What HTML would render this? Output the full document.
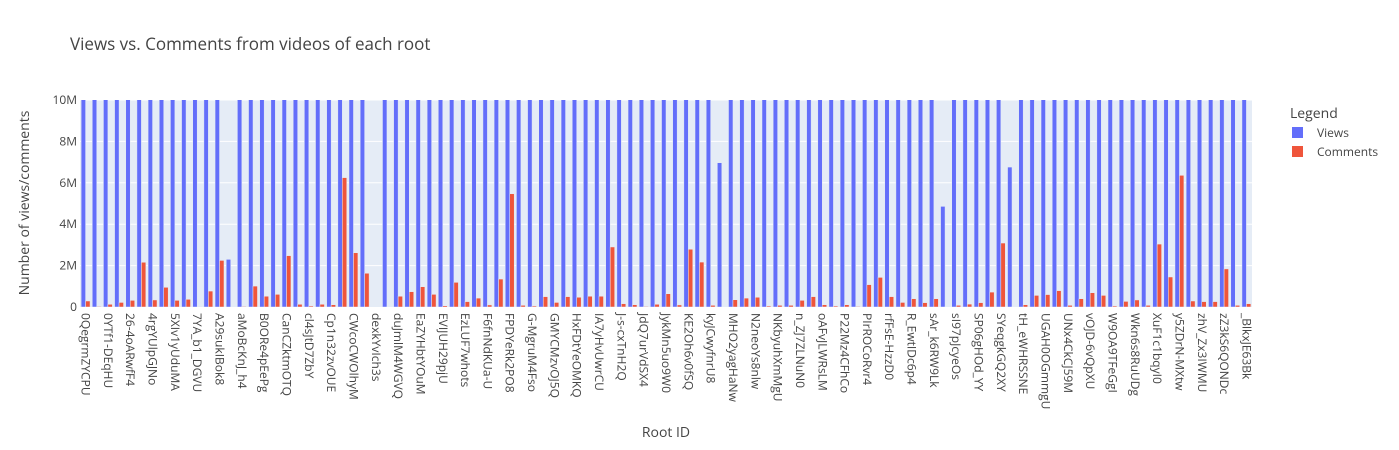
<!DOCTYPE html>
<html><head><meta charset="utf-8"><style>
html,body{margin:0;padding:0;background:#fff;}
svg{display:block;font-family:"Open Sans","Liberation Sans",sans-serif;}
</style></head><body>
<svg id="chart" width="1399" height="450" xmlns="http://www.w3.org/2000/svg">
<rect width="1399" height="450" fill="#fff"/>
<text x="70" y="50" font-size="17" fill="#444">Views vs. Comments from videos of each root</text>
<rect x="80" y="100" width="1172" height="207" fill="#e5ecf6"/>
<g id="grid"></g>
<defs><clipPath id="clip"><rect x="80" y="100" width="1172" height="207"/></clipPath></defs>
<g id="bars" clip-path="url(#clip)"></g>
<g id="yticks"></g>
<g id="xticks"></g>
<text transform="translate(29,203) rotate(-90)" text-anchor="middle" font-size="14" fill="#444">Number of views/comments</text>
<text x="666" y="437" text-anchor="middle" font-size="14" fill="#444">Root ID</text>
<g>
<text x="1290" y="118" font-size="14" fill="#444">Legend</text>
<g><rect x="1292" y="127" width="11" height="11" fill="#636efa"/><text x="1317" y="137" font-size="12" fill="#444">Views</text></g>
<g><rect x="1292" y="146" width="11" height="11" fill="#ef553b"/><text x="1317" y="156" font-size="12" fill="#444">Comments</text></g>
</g>
</svg>
<script>
const categories = ["0QegrmZYCPU","0Rk1xTq9aLs","0YTf1-DEqHU","1bKx7PzQwEo","26-4oARwfF4","3mVnQ8tLpYc","4rgYUlpGJNo","4zWq2kXbN7s","5XIv1yUduMA","6HpLr0tYdQk","7YA_b1_DGVU","9cTfWm3sJvE","A29sukIBok8","a8QzLmN2pXw","aMoBcKnJ_h4","aZ4yRt7LqPo","B0ORe4pEePg","bX9kT3mWq1A","CanCZktmOTQ","cGh7Rz2LpVs","cl4sJtD7ZbY","cN8qWx4TpLe","Cp1n32zvOUE","CsQ5mLr8YtB","CWcoCWOlhyM","d2HjK7wXqNf","dexkYvIch3s","dL6pQz9VtRm","duJmlM4WGVQ","e1XkB8rTwZq","EaZYHbtYOuM","EgT4nP0sLvW","EVIJUH29pjU","Ew7qZr3KbNc","EzLUF7whots","f3MpLq8XzRt","F6fnNdKUa-U","FkW2vN9jQsT","FPDYeRk2PO8","fY5tLm1QzXa","G-MgruM4Fso","gB7xR2kWpLn","GMYCMzvOJ5Q","h4NqT8zLmVs","HxFDtYeOMKQ","i0PzK3wRtLb","IA7yHvUwrCU","iX8mQ2nVrTs","J-s-cxTnH2Q","j6WkL9pZqRe","JdQ7urVdSX4","jM3tX8qLzPw","JykMn5uo9W0","k1RzP7wQmLx","KE2Oh6v0fSQ","kT9nV4sLpQa","kyJCwyfnrU8","L5qXz2WmRtP","MHO2yagHaNw","mP8kR3tLqZs","N2neoYs8nlw","nB4wQ7zLxTp","NKbyuhXmMgU","nR2tP9kWqLz","n_ZJ7ZLNuN0","o3LqZ8mWxRt","oAFvJLWRsLM","p7TkQ2rLzWn","P22Mz4CFhCo","pL9xW3qRtZm","PIrROCoRvr4","q4WzL8nTxPr","rfFsE-HzzD0","rK2pT7qLmZx","R_EwtIDc6p4","s1MzW9tQrLp","sAr_k6RW9Lk","sE6qL3xTzWn","sI97pJcyeOs","sV8pR2mLqTz","SP06gHOd_YY","sX3tQ7wLzRp","SYeqgkGQ2XY","t9LmW2qRxZp","tH_eWHRSSNE","tZ5qP8rLwXm","UGAH0OGmmgU","uK7wT3zLqRn","UNx4CkCJ59M","v2RqL8mTxWz","vOJD-6vQpXU","vW4zP9tLqRm","W9OA9TFeGgI","w3LqT7xRzPn","Wkn6s8RuUDg","x6PmW2qLtRz","XuF1c1bqyI0","xQ8tR3zLwPm","y5ZDrN-MXtw","yL2wP7qTxRz","zhV_Zx3IWMU","zR9tQ4mLxWp","zZ3kS6QONDc","_A4pW8rTqLz","_BlkxJE63Bk"];
const views = [20,20,20,20,20,20,20,20,20,20,20,20,20,2.3,20,20,20,20,20,20,20,20,20,20,20,20,0,20,20,20,20,20,20,20,20,20,20,20,20,20,20,20,20,20,20,20,20,20,20,20,20,20,20,20,20,20,20,6.97,20,20,20,20,20,20,20,20,20,20,20,20,20,20,20,20,20,20,20,4.86,20,20,20,20,20,6.76,20,20,20,20,20,20,20,20,20,20,20,20,20,20,20,20,20,20,20,20,20];
const comments = [0.29,0.03,0.13,0.22,0.32,2.16,0.34,0.95,0.32,0.37,0.01,0.77,2.25,0,0.03,1.01,0.52,0.61,2.48,0.13,0.05,0.13,0.11,6.25,2.62,1.63,0,0.02,0.52,0.74,0.98,0.61,0.06,1.19,0.26,0.43,0.10,1.35,5.47,0.08,0.05,0.50,0.22,0.50,0.47,0.52,0.52,2.90,0.16,0.11,0.03,0.13,0.64,0.10,2.79,2.17,0.08,0.02,0.35,0.43,0.47,0.05,0.08,0.08,0.32,0.50,0.11,0.05,0.11,0.03,1.08,1.43,0.50,0.22,0.40,0.21,0.40,0.02,0.08,0.14,0.21,0.72,3.09,0.02,0.11,0.56,0.60,0.79,0.08,0.40,0.69,0.56,0.05,0.27,0.34,0.08,3.04,1.45,6.36,0.29,0.26,0.26,1.84,0.08,0.16];
const yTickValues = [0,2,4,6,8,10];
const yTickLabels = ["0","2M","4M","6M","8M","10M"];

const NS="http://www.w3.org/2000/svg";
const X0=80,X1=1252,Y0=307,Y1=100,YMAX=10;
const step=(X1-X0)/categories.length;
const xc=i=>X0+step*(i+0.5);
const y=v=>Y0-(v/YMAX)*(Y0-Y1);
function mk(tag,attrs){const e=document.createElementNS(NS,tag);for(const k in attrs)e.setAttribute(k,attrs[k]);return e;}
const grid=document.getElementById('grid'),yt=document.getElementById('yticks'),bars=document.getElementById('bars'),xt=document.getElementById('xticks');
yTickValues.forEach((v,i)=>{
  if(v>0){const l=mk('line',{x1:X0,x2:X1,y1:y(v),y2:y(v),stroke:'#fff','stroke-width':1});
  
  
  grid.appendChild(l);}
  const t=mk('text',{x:X0-3,y:y(v)+4,'text-anchor':'end','font-size':12,fill:'#444'});
  t.textContent=yTickLabels[i];
  
  
  yt.appendChild(t);
});
const bw=step*0.4;
categories.forEach((c,i)=>{
  const cx=xc(i);
  const vb=Math.min(views[i],YMAX*1.05);
  const b=mk('rect',{x:cx-bw,y:y(vb),width:bw,height:Y0-y(vb),fill:'#636efa',stroke:'#e5ecf6','stroke-width':0.5});
  
  
  bars.appendChild(b);
  const r=mk('rect',{x:cx,y:y(comments[i]),width:bw,height:Y0-y(comments[i]),fill:'#ef553b',stroke:'#e5ecf6','stroke-width':0.5});
  
  
  bars.appendChild(r);
  if(i%2===0){
    const t=mk('text',{transform:`translate(${cx-4},${Y0+6}) rotate(90)`,'font-size':12,fill:'#444'});
    t.textContent=c;
    
    
    xt.appendChild(t);
  }
});
</script>
</body></html>
